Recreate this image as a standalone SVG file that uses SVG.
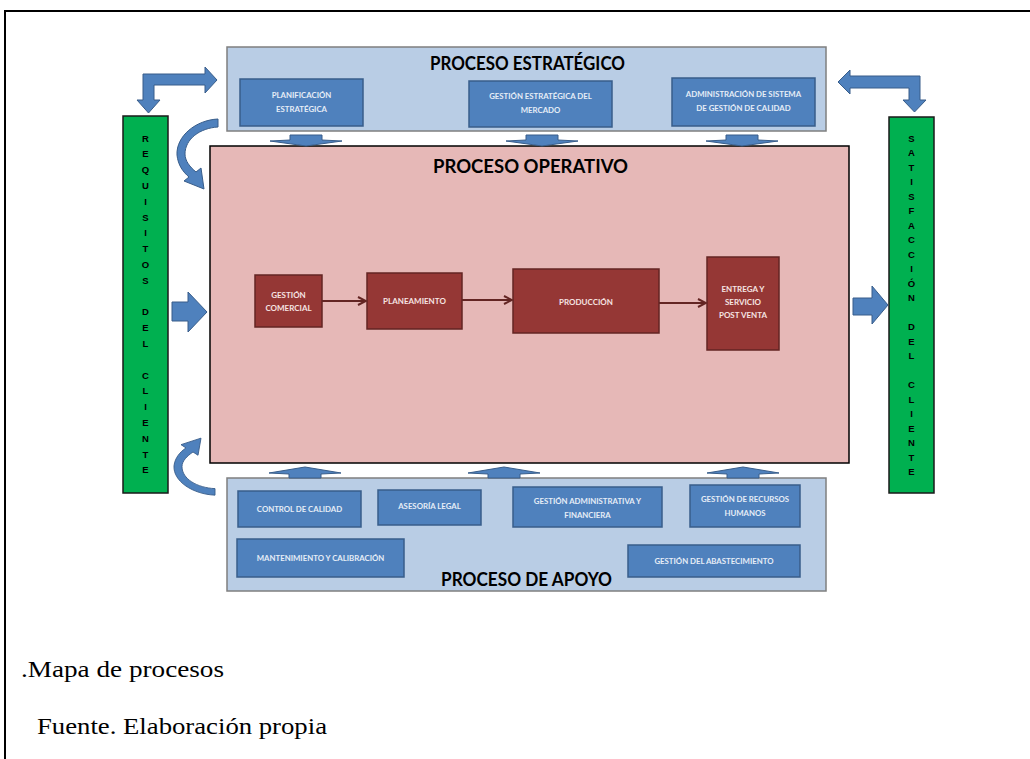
<svg xmlns="http://www.w3.org/2000/svg" width="1030" height="759" viewBox="0 0 1030 759">
  <style>
    .frame { fill: none; stroke: #000; stroke-width: 2; }
    .group-box { fill: #b9cde5; stroke: #7f7f7f; stroke-width: 1.5; }
    .op-box { fill: #e6b8b7; stroke: #000; stroke-width: 1.5; }
    .blue { fill: #4f81bd; stroke: #385d8a; stroke-width: 1.5; }
    .red { fill: #953735; stroke: #632523; stroke-width: 1.5; }
    .green { fill: #00b050; stroke: #1a1a1a; stroke-width: 1.5; }
    .arrow { fill: #4f81bd; stroke: #385d8a; stroke-width: 1; }
    .title { font-family: Lato, "Liberation Sans", sans-serif; font-weight: 700; font-size: 18px; fill: #000; }
    .lbl { font-family: Lato, "Liberation Sans", sans-serif; font-weight: 700; font-size: 7.8px; fill: #e6edf7; text-anchor: middle; }
    .lbl-r { font-family: Lato, "Liberation Sans", sans-serif; font-weight: 700; font-size: 8px; fill: #f6e4e3; text-anchor: middle; }
    .vert { font-family: "Liberation Sans", sans-serif; font-weight: 700; font-size: 9.5px; fill: #000; text-anchor: middle; }
    .caption { font-family: "Liberation Serif", serif; font-size: 24px; fill: #000; }
    .flow { fill: none; stroke: #632523; stroke-width: 2; }
  </style>
  <defs>
    <marker id="chev" viewBox="0 0 10 10" refX="9" refY="5" markerWidth="5" markerHeight="5" orient="auto" markerUnits="strokeWidth">
      <path d="M1,1 L9,5 L1,9" fill="none" stroke="#632523" stroke-width="2"/>
    </marker>
    <path id="curve" d="M218,119 C196,120 176,136 177,155 C178,165 183,172 189,177 L184,181 L204,189 L201,168 L196,172 C190,167 185,161 185,154 C185,139 200,128 218,127 Z"/>
  </defs>

  <rect width="1030" height="759" fill="#fff"/>
  <!-- page frame -->
  <path class="frame" d="M5,759 L5,11 L1032,11"/>

  <!-- strategic processes -->
  <g id="proceso-estrategico">
    <rect class="group-box" x="227" y="47" width="599" height="84"/>
    <text class="title" x="430" y="70" textLength="195" lengthAdjust="spacingAndGlyphs">PROCESO ESTRATÉGICO</text>
  </g>
  <g id="planificacion-estrategica">
    <rect class="blue" x="240" y="79" width="123" height="47"/>
    <text class="lbl" x="301.5" y="98">PLANIFICACIÓN</text>
    <text class="lbl" x="301.5" y="112">ESTRATÉGICA</text>
  </g>
  <g id="gestion-estrategica-mercado">
    <rect class="blue" x="469" y="81" width="143" height="46"/>
    <text class="lbl" x="540.5" y="99">GESTIÓN ESTRATÉGICA DEL</text>
    <text class="lbl" x="540.5" y="113">MERCADO</text>
  </g>
  <g id="administracion-sgc">
    <rect class="blue" x="672" y="78" width="143" height="48"/>
    <text class="lbl" x="743.5" y="97">ADMINISTRACIÓN DE SISTEMA</text>
    <text class="lbl" x="743.5" y="111">DE GESTIÓN DE CALIDAD</text>
  </g>

  <!-- operational process -->
  <g id="proceso-operativo">
    <rect class="op-box" x="210" y="146" width="639" height="317"/>
    <text class="title" x="433" y="173" textLength="195" lengthAdjust="spacingAndGlyphs">PROCESO OPERATIVO</text>
  </g>
  <g id="gestion-comercial">
    <rect class="red" x="255" y="275" width="67" height="52"/>
    <text class="lbl-r" x="288.5" y="298">GESTIÓN</text>
    <text class="lbl-r" x="288.5" y="311">COMERCIAL</text>
  </g>
  <g id="planeamiento">
    <rect class="red" x="367" y="273" width="95" height="56"/>
    <text class="lbl-r" x="414.5" y="304">PLANEAMIENTO</text>
  </g>
  <g id="produccion">
    <rect class="red" x="513" y="269" width="146" height="64"/>
    <text class="lbl-r" x="586" y="305">PRODUCCIÓN</text>
  </g>
  <g id="entrega-servicio">
    <rect class="red" x="707" y="257" width="72" height="93"/>
    <text class="lbl-r" x="743" y="292">ENTREGA Y</text>
    <text class="lbl-r" x="743" y="305">SERVICIO</text>
    <text class="lbl-r" x="743" y="318">POST VENTA</text>
  </g>

  <!-- support processes -->
  <g id="proceso-apoyo">
    <rect class="group-box" x="227" y="478" width="599" height="113"/>
    <text class="title" x="441" y="586" textLength="171" lengthAdjust="spacingAndGlyphs">PROCESO DE APOYO</text>
  </g>
  <g id="control-calidad">
    <rect class="blue" x="238" y="491" width="123" height="36"/>
    <text class="lbl" x="299.5" y="512">CONTROL DE CALIDAD</text>
  </g>
  <g id="asesoria-legal">
    <rect class="blue" x="378" y="490" width="103" height="35"/>
    <text class="lbl" x="429.5" y="509">ASESORÍA LEGAL</text>
  </g>
  <g id="gestion-administrativa">
    <rect class="blue" x="513" y="487" width="149" height="40"/>
    <text class="lbl" x="587.5" y="504">GESTIÓN ADMINISTRATIVA Y</text>
    <text class="lbl" x="587.5" y="518">FINANCIERA</text>
  </g>
  <g id="gestion-rrhh">
    <rect class="blue" x="690" y="485" width="110" height="42"/>
    <text class="lbl" x="745" y="502">GESTIÓN DE RECURSOS</text>
    <text class="lbl" x="745" y="516">HUMANOS</text>
  </g>
  <g id="mantenimiento">
    <rect class="blue" x="237" y="539" width="167" height="38"/>
    <text class="lbl" x="320.5" y="561">MANTENIMIENTO Y CALIBRACIÓN</text>
  </g>
  <g id="gestion-abastecimiento">
    <rect class="blue" x="628" y="545" width="172" height="32"/>
    <text class="lbl" x="714" y="564">GESTIÓN DEL ABASTECIMIENTO</text>
  </g>

  <!-- customer requirements -->
  <g id="requisitos-cliente">
    <rect class="green" x="123" y="116" width="45" height="377"/>
    <text class="vert">
      <tspan x="145.5" y="141.5">R</tspan><tspan x="145.5" y="157.3">E</tspan><tspan x="145.5" y="173.1">Q</tspan><tspan x="145.5" y="188.9">U</tspan><tspan x="145.5" y="204.7">I</tspan><tspan x="145.5" y="220.5">S</tspan><tspan x="145.5" y="236.3">I</tspan><tspan x="145.5" y="252.1">T</tspan><tspan x="145.5" y="267.9">O</tspan><tspan x="145.5" y="283.7">S</tspan><tspan x="145.5" y="315.3">D</tspan><tspan x="145.5" y="331.1">E</tspan><tspan x="145.5" y="346.9">L</tspan><tspan x="145.5" y="378.5">C</tspan><tspan x="145.5" y="394.3">L</tspan><tspan x="145.5" y="410.1">I</tspan><tspan x="145.5" y="425.9">E</tspan><tspan x="145.5" y="441.7">N</tspan><tspan x="145.5" y="457.5">T</tspan><tspan x="145.5" y="473.3">E</tspan>
    </text>
  </g>

  <!-- customer satisfaction -->
  <g id="satisfaccion-cliente">
    <rect class="green" x="889" y="117" width="45" height="376"/>
    <text class="vert">
      <tspan x="911.5" y="141.5">S</tspan><tspan x="911.5" y="156">A</tspan><tspan x="911.5" y="170.5">T</tspan><tspan x="911.5" y="185">I</tspan><tspan x="911.5" y="199.5">S</tspan><tspan x="911.5" y="214">F</tspan><tspan x="911.5" y="228.5">A</tspan><tspan x="911.5" y="243">C</tspan><tspan x="911.5" y="257.5">C</tspan><tspan x="911.5" y="272">I</tspan><tspan x="911.5" y="286.5">Ó</tspan><tspan x="911.5" y="301">N</tspan><tspan x="911.5" y="330">D</tspan><tspan x="911.5" y="344.5">E</tspan><tspan x="911.5" y="359">L</tspan><tspan x="911.5" y="388">C</tspan><tspan x="911.5" y="402.5">L</tspan><tspan x="911.5" y="417">I</tspan><tspan x="911.5" y="431.5">E</tspan><tspan x="911.5" y="446">N</tspan><tspan x="911.5" y="460.5">T</tspan><tspan x="911.5" y="475">E</tspan>
    </text>
  </g>

  <!-- connectors -->
  <g id="connectors">
    <!-- operational flow -->
    <path class="flow" d="M322,301 L366,301" marker-end="url(#chev)"/>
    <path class="flow" d="M462,300 L512,300" marker-end="url(#chev)"/>
    <path class="flow" d="M659,303 L706,303" marker-end="url(#chev)"/>

    <!-- bent arrows at the top corners -->
    <polygon class="arrow" points="217,80 205,67 205,74 143,74 143,100 137,100 148.5,113 160,100 154,100 154,85 205,85 205,93"/>
    <polygon class="arrow" points="838,82 850,70 850,76 920,76 920,100 926,100 914.5,112 903,100 909,100 909,88 850,88 850,94"/>

    <!-- curved arrows on the left -->
    <use href="#curve" class="arrow"/>
    <use href="#curve" class="arrow" transform="matrix(1,0,0,-0.814,-3,592)"/>

    <!-- block arrows into and out of the operational process -->
    <polygon class="arrow" points="172,302 188,302 188,292 207,312 188,332 188,321 172,321"/>
    <polygon class="arrow" points="853,298 872,298 872,286 888,305 872,324 872,315 853,315"/>

    <!-- strategic to operational -->
    <polygon class="arrow" points="290,135 322,135 322,140 342,141 306,146 270,141 290,140"/>
    <polygon class="arrow" points="526,135 558,135 558,140 578,141 542,146 506,141 526,140"/>
    <polygon class="arrow" points="726,135 758,135 758,140 778,141 742,146 706,141 726,140"/>

    <!-- support to operational -->
    <polygon class="arrow" points="289,478 321,478 321,474 341,473 305,467 269,473 289,474"/>
    <polygon class="arrow" points="488,478 520,478 520,474 540,473 504,467 468,473 488,474"/>
    <polygon class="arrow" points="727,478 759,478 759,474 779,473 743,467 707,473 727,474"/>
  </g>

  <!-- caption -->
  <text class="caption" x="21" y="677" textLength="203" lengthAdjust="spacingAndGlyphs">.Mapa de procesos</text>
  <text class="caption" x="37" y="734" textLength="290" lengthAdjust="spacingAndGlyphs">Fuente. Elaboración propia</text>
</svg>
